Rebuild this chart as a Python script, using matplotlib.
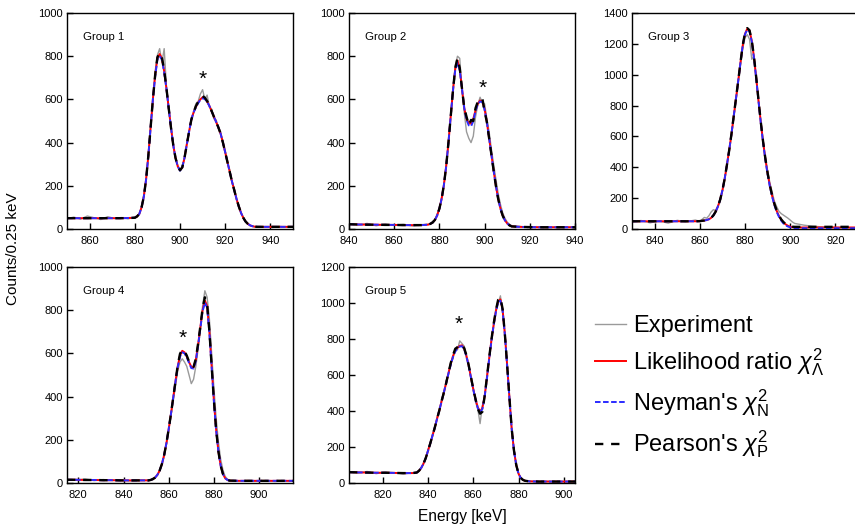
import matplotlib
matplotlib.use("Agg")
import matplotlib.pyplot as plt
from matplotlib.lines import Line2D

plt.rcParams["font.family"] = ["Liberation Sans", "DejaVu Sans"]
plt.rcParams["mathtext.fontset"] = "custom"
plt.rcParams["mathtext.rm"] = "Liberation Sans"
plt.rcParams["mathtext.it"] = "Liberation Sans:italic"
plt.rcParams["lines.scale_dashes"] = False

# ---------------- Group 1 ----------------
energy_g1 = [850, 853, 856, 859, 862, 865, 868, 871, 874, 877,
             880, 881, 882, 883, 884, 885, 886, 887, 888, 889, 890, 891, 892, 893, 894, 895,
             896, 897, 898, 899, 900, 901, 902, 903, 904, 905, 906, 907, 908, 909, 910, 911,
             912, 913, 914, 915, 916, 917, 918, 919, 920, 921, 922, 923, 924, 925, 926, 927,
             928, 929, 930, 931, 932, 933, 934, 935,
             938, 941, 944, 947, 950]
exp_g1 = [48, 55, 46, 60, 52, 44, 57, 49, 53, 47,
          55, 62, 68, 105, 160, 225, 350, 480, 590, 730, 805, 835, 770, 835, 660, 545,
          480, 380, 325, 295, 270, 290, 325, 400, 445, 515, 535, 580, 590, 625, 645, 600,
          620, 565, 555, 510, 505, 465, 450, 395, 365, 305, 275, 215, 190, 135, 110, 72,
          55, 33, 26, 15, 14, 9, 12, 8,
          11, 7, 12, 9, 10]
lr_g1 = [50, 50, 50, 50, 50, 50, 50, 50, 50, 51,
         52, 58, 70, 100, 150, 230, 340, 470, 600, 710, 790, 810, 790, 730, 650, 560,
         470, 390, 330, 290, 272, 285, 330, 390, 450, 505, 540, 565, 585, 600, 610, 605,
         590, 570, 545, 520, 495, 470, 440, 400, 355, 310, 265, 220, 180, 140, 105, 75,
         52, 35, 24, 17, 13, 11, 10, 10,
         10, 10, 10, 10, 10]
ney_g1 = [50, 50, 50, 50, 50, 50, 50, 50, 50, 51,
          52, 58, 70, 100, 150, 230, 340, 470, 600, 705, 785, 800, 785, 725, 650, 560,
          470, 390, 330, 290, 270, 285, 330, 390, 450, 505, 540, 562, 582, 598, 605, 602,
          588, 570, 545, 520, 495, 470, 440, 400, 355, 310, 265, 220, 180, 140, 105, 75,
          52, 35, 24, 17, 13, 11, 10, 10,
          10, 10, 10, 10, 10]
pea_g1 = [50, 50, 50, 50, 50, 50, 50, 50, 50, 51,
          52, 58, 70, 100, 150, 230, 340, 470, 600, 712, 795, 815, 795, 735, 652, 560,
          470, 390, 330, 290, 272, 285, 330, 390, 450, 505, 540, 568, 588, 604, 615, 608,
          592, 572, 546, 520, 495, 470, 440, 400, 355, 310, 265, 220, 180, 140, 105, 75,
          52, 35, 24, 17, 13, 11, 10, 10,
          10, 10, 10, 10, 10]

# ---------------- Group 2 ----------------
energy_g2 = [840, 844, 848, 852, 856, 860, 864, 868, 872,
             875, 876, 877, 878, 879, 880, 881, 882, 883, 884, 885, 886, 887, 888, 889, 890,
             891, 892, 893, 894, 895, 896, 897, 898, 899, 900, 901, 902, 903, 904, 905, 906,
             907, 908, 909, 910, 911, 912,
             915, 919, 923, 927, 931, 935, 940]
exp_g2 = [25, 18, 26, 15, 24, 17, 22, 14, 20,
          22, 26, 35, 40, 70, 90, 150, 200, 300, 395, 530, 650, 755, 800, 790, 640,
          540, 450, 420, 400, 430, 520, 575, 610, 585, 580, 510, 450, 370, 300, 230, 165,
          115, 75, 50, 32, 22, 15,
          13, 7, 11, 6, 9, 10, 7]
lr_g2 = [22, 21, 20, 20, 19, 19, 18, 18, 18,
         20, 24, 30, 42, 62, 95, 140, 205, 290, 400, 520, 640, 740, 780, 740, 650,
         560, 510, 490, 488, 510, 550, 580, 595, 590, 555, 495, 420, 345, 270, 200, 140,
         95, 62, 40, 26, 17, 12,
         10, 9, 8, 8, 8, 8, 8]
ney_g2 = [22, 21, 20, 20, 19, 19, 18, 18, 18,
          20, 24, 30, 42, 62, 95, 140, 205, 290, 400, 520, 640, 735, 770, 735, 648,
          560, 505, 480, 475, 500, 548, 578, 590, 588, 552, 495, 420, 345, 270, 200, 140,
          95, 62, 40, 26, 17, 12,
          10, 9, 8, 8, 8, 8, 8]
pea_g2 = [22, 21, 20, 20, 19, 19, 18, 18, 18,
          20, 24, 30, 42, 62, 95, 140, 205, 290, 400, 520, 640, 745, 790, 745, 650,
          560, 520, 480, 505, 500, 560, 590, 600, 605, 545, 495, 420, 345, 270, 200, 140,
          95, 62, 40, 26, 17, 12,
          10, 9, 8, 8, 8, 8, 8]

# ---------------- Group 3 ----------------
energy_g3 = [830, 834, 838, 842, 846, 850, 854, 858,
             860, 861, 862, 863, 864, 865, 866, 867, 868, 869, 870, 871, 872, 873, 874, 875,
             876, 877, 878, 879, 880, 881, 882, 883, 884, 885, 886, 887, 888, 889, 890, 891,
             892, 893, 894, 895, 896, 897, 898, 899, 900, 901, 902,
             906, 910, 914, 918, 922, 926, 930]
exp_g3 = [45, 55, 40, 52, 38, 56, 47, 58,
          50, 62, 75, 70, 85, 110, 125, 120, 150, 180, 245, 320, 420, 505, 600, 720,
          830, 950, 1060, 1170, 1240, 1260, 1230, 1100, 1120, 960, 820, 700, 575, 465, 380, 300,
          240, 180, 145, 115, 100, 90, 80, 70, 58, 45, 36,
          25, 18, 14, 10, 9, 8, 7]
lr_g3 = [50, 50, 50, 50, 50, 50, 50, 50,
         51, 53, 55, 58, 63, 72, 88, 112, 145, 190, 250, 325, 415, 510, 615, 730,
         845, 960, 1080, 1190, 1265, 1298, 1285, 1220, 1110, 975, 830, 690, 565, 455, 360, 280,
         215, 160, 118, 85, 60, 42, 30, 21, 15, 12, 10,
         10, 10, 10, 10, 10, 10, 10]
ney_g3 = [50, 50, 50, 50, 50, 50, 50, 50,
          51, 53, 55, 58, 63, 72, 88, 112, 145, 190, 250, 325, 415, 510, 615, 730,
          845, 960, 1080, 1190, 1262, 1292, 1280, 1215, 1105, 970, 825, 685, 560, 450, 355, 275,
          210, 155, 112, 80, 55, 36, 24, 16, 11, 8, 6,
          5, 5, 5, 5, 5, 5, 5]
pea_g3 = [50, 50, 50, 50, 50, 50, 50, 50,
          51, 53, 55, 58, 63, 72, 88, 112, 145, 190, 250, 325, 415, 510, 615, 730,
          845, 960, 1080, 1192, 1270, 1302, 1288, 1222, 1112, 978, 832, 692, 567, 458, 363, 283,
          218, 163, 121, 88, 63, 45, 33, 24, 18, 15, 14,
          14, 14, 14, 14, 14, 14, 14]

# ---------------- Group 4 ----------------
energy_g4 = [815, 819, 823, 827, 831, 835, 839, 843, 847, 851,
             852, 853, 854, 855, 856, 857, 858, 859, 860, 861, 862, 863, 864, 865, 866, 867,
             868, 869, 870, 871, 872, 873, 874, 875, 876, 877, 878, 879, 880, 881, 882, 883,
             884, 885, 886, 887,
             891, 895, 899, 903, 907, 911, 915]
exp_g4 = [17, 13, 19, 11, 16, 12, 15, 10, 14, 13,
          15, 22, 28, 35, 55, 85, 125, 180, 245, 310, 380, 450, 520, 560, 575, 560,
          540, 500, 460, 480, 540, 620, 710, 820, 890, 860, 760, 600, 440, 300, 190, 110,
          60, 30, 18, 12,
          9, 12, 8, 11, 7, 10, 9]
lr_g4 = [15, 15, 14, 14, 13, 13, 12, 12, 12, 12,
         14, 18, 25, 38, 58, 88, 130, 185, 250, 320, 395, 470, 540, 590, 612, 605,
         585, 560, 538, 535, 570, 640, 720, 800, 845, 820, 700, 540, 380, 245, 145, 80,
         42, 22, 14, 11,
         10, 10, 10, 10, 10, 10, 10]
ney_g4 = [15, 15, 14, 14, 13, 13, 12, 12, 12, 12,
          14, 18, 25, 38, 58, 88, 130, 185, 250, 320, 395, 470, 538, 585, 605, 600,
          582, 556, 532, 530, 565, 635, 715, 795, 835, 812, 695, 538, 378, 244, 145, 80,
          42, 22, 14, 11,
          10, 10, 10, 10, 10, 10, 10]
pea_g4 = [15, 15, 14, 14, 13, 13, 12, 12, 12, 12,
          14, 18, 25, 38, 58, 88, 130, 185, 250, 320, 395, 470, 545, 598, 618, 610,
          590, 562, 540, 538, 575, 645, 725, 808, 860, 828, 705, 542, 382, 246, 146, 80,
          42, 22, 14, 11,
          10, 10, 10, 10, 10, 10, 10]

# ---------------- Group 5 ----------------
energy_g5 = [805, 809, 813, 817, 821, 825, 829, 833,
             835, 836, 837, 838, 839, 840, 841, 842, 843, 844, 845, 846, 847, 848, 849, 850,
             851, 852, 853, 854, 855, 856, 857, 858, 859, 860, 861, 862, 863, 864, 865, 866,
             867, 868, 869, 870, 871, 872, 873, 874, 875, 876, 877, 878, 879, 880, 881, 882, 883,
             885, 889, 893, 897, 901, 905]
exp_g5 = [62, 55, 64, 52, 60, 58, 50, 57,
          60, 72, 80, 115, 135, 190, 215, 275, 300, 370, 395, 470, 490, 570, 600, 675,
          690, 750, 740, 790, 775, 760, 690, 660, 570, 530, 450, 410, 330, 430, 470, 600,
          680, 800, 870, 970, 1000, 1040, 940, 840, 630, 490, 290, 190, 95, 55, 25, 18, 10,
          11, 7, 10, 6, 9, 7]
lr_g5 = [60, 59, 58, 57, 57, 56, 55, 55,
         58, 68, 85, 108, 140, 180, 222, 265, 310, 358, 405, 455, 505, 555, 610, 660,
         705, 735, 752, 762, 765, 745, 705, 650, 585, 520, 465, 420, 398, 415, 480, 580,
         690, 790, 880, 955, 1010, 1020, 960, 820, 650, 470, 300, 180, 100, 52, 28, 17, 12,
         9, 8, 8, 8, 8, 8]
ney_g5 = [60, 59, 58, 57, 57, 56, 55, 55,
          58, 68, 85, 108, 140, 180, 222, 265, 310, 358, 405, 455, 505, 555, 608, 655,
          700, 730, 748, 758, 760, 742, 702, 648, 583, 518, 462, 416, 394, 410, 476, 576,
          686, 786, 876, 950, 1003, 1012, 955, 818, 648, 468, 300, 180, 100, 52, 28, 17, 12,
          9, 8, 8, 8, 8, 8]
pea_g5 = [60, 59, 58, 57, 57, 56, 55, 55,
          58, 68, 85, 108, 140, 180, 222, 265, 310, 358, 405, 455, 505, 555, 612, 665,
          710, 745, 755, 770, 768, 748, 708, 652, 587, 522, 466, 412, 385, 395, 482, 584,
          694, 794, 884, 960, 1018, 1030, 965, 822, 652, 472, 300, 180, 100, 52, 28, 17, 12,
          9, 8, 8, 8, 8, 8]

groups = [
    ("Group 1", energy_g1, exp_g1, lr_g1, ney_g1, pea_g1),
    ("Group 2", energy_g2, exp_g2, lr_g2, ney_g2, pea_g2),
    ("Group 3", energy_g3, exp_g3, lr_g3, ney_g3, pea_g3),
    ("Group 4", energy_g4, exp_g4, lr_g4, ney_g4, pea_g4),
    ("Group 5", energy_g5, exp_g5, lr_g5, ney_g5, pea_g5),
]
x_ranges = [(850, 950), (840, 940), (830, 930), (815, 915), (805, 905)]
y_tops = [1000, 1000, 1400, 1000, 1200]
x_ticks = [[860, 880, 900, 920, 940], [840, 860, 880, 900, 920, 940],
           [840, 860, 880, 900, 920], [820, 840, 860, 880, 900],
           [820, 840, 860, 880, 900]]
# asterisk marks on the secondary peaks: (group index, energy, counts)
star_marks = [(0, 910, 695), (1, 899, 650), (3, 866, 670), (4, 853.5, 880)]

series_labels = ["Experiment",
                 r"Likelihood ratio $\chi^2_{\Lambda}$",
                 r"Neyman's $\chi^2_{\mathrm{N}}$",
                 r"Pearson's $\chi^2_{\mathrm{P}}$"]
styles = [
    dict(color="#9a9a9a", lw=1.0),
    dict(color="#ff0000", lw=1.4),
    dict(color="#2b2bff", lw=1.4, dashes=(4.0, 1.8)),
    dict(color="#000000", lw=1.7, dashes=(6.0, 5.6)),
]

W, H = 855, 526
fig = plt.figure(figsize=(W / 100, H / 100), dpi=100)
boxes = [(67, 13), (349, 13), (632, 13), (67, 267), (349, 267)]
aw, ah = 226, 216

axes = []
for (px, py) in boxes:
    ax = fig.add_axes([px / W, 1 - (py + ah) / H, aw / W, ah / H])
    axes.append(ax)

for i, (ax, grp) in enumerate(zip(axes, groups)):
    name, en, ex, lr, ny, pe = grp
    for vals, st in zip([ex, lr, ny, pe], styles):
        ax.plot(en, vals, **st)
    ax.set_xlim(*x_ranges[i])
    ax.set_ylim(0, y_tops[i])
    ax.set_xticks(x_ticks[i])
    ax.set_yticks(range(0, y_tops[i] + 1, 200))
    ax.tick_params(direction="in", length=4, width=1.0, labelsize=8,
                   top=False, right=False)
    ax.tick_params(axis="x", pad=5)
    ax.tick_params(axis="y", pad=3)
    for sp in ax.spines.values():
        sp.set_linewidth(1.0)
    ax.text(0.07, 0.89, name, transform=ax.transAxes, fontsize=8.2,
            ha="left", va="center")

for gi, ex_, ey_ in star_marks:
    axes[gi].text(ex_, ey_, "*", fontsize=15, ha="center", va="center")

fig.text(13 / W, 1 - 249 / H, "Counts/0.25 keV", rotation=90,
         fontsize=11, ha="center", va="center")
fig.text(462 / W, 1 - 517 / H, "Energy [keV]", fontsize=11.2,
         ha="center", va="center")

handles = [Line2D([], [], **st) for st in styles]
fig.legend(handles, series_labels, loc="upper left",
           bbox_to_anchor=(595 / W, 1 - 315 / H), frameon=False,
           fontsize=17, handlelength=1.3, handletextpad=0.3,
           labelspacing=0.4, borderpad=0, borderaxespad=0)

fig.savefig("out.png", dpi=100)
